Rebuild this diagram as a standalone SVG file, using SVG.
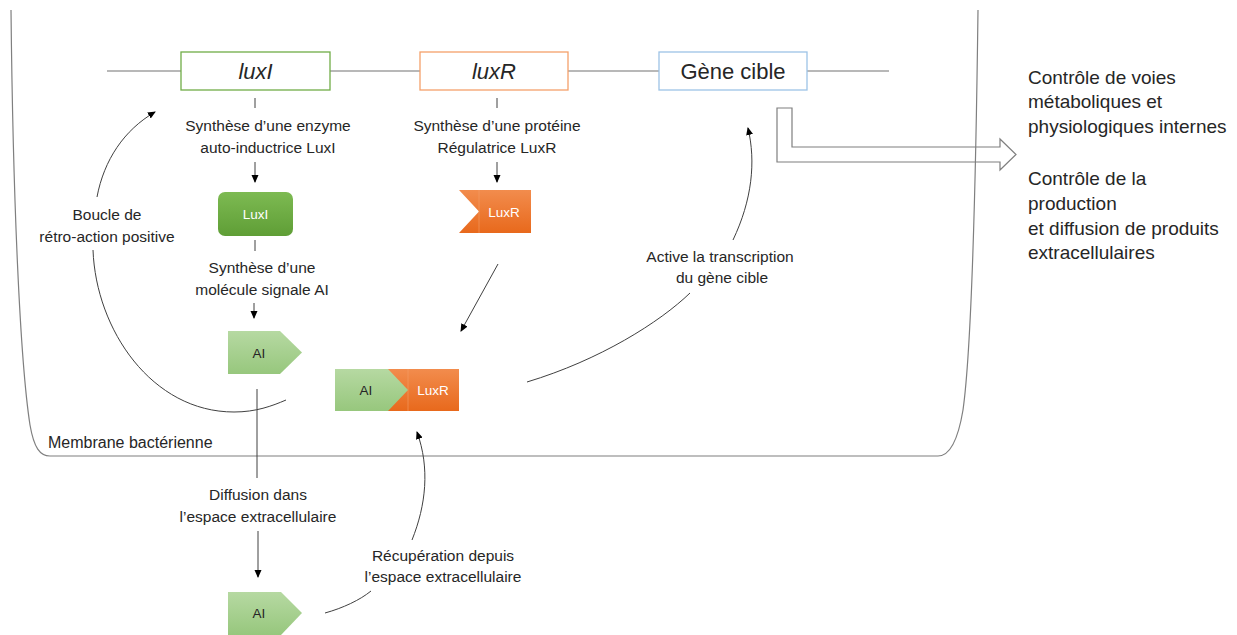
<svg xmlns="http://www.w3.org/2000/svg" width="1237" height="635" viewBox="0 0 1237 635">
<style>
text{font-family:"Liberation Sans",Arial,sans-serif;fill:#262626}
.lbl{font-size:15.5px;text-anchor:middle}
.gene{font-size:22px;text-anchor:middle}
.node{font-size:13.5px;text-anchor:middle}
.w{fill:#ffffff}
.right{font-size:19px}
.conn{fill:none;stroke:#404040;stroke-width:1}
.arr{fill:none;stroke:#404040;stroke-width:1;marker-end:url(#ah)}
</style>
<defs>
<marker id="ah" markerWidth="8" markerHeight="8" refX="7" refY="4" orient="auto" markerUnits="userSpaceOnUse">
<path d="M0,0.5 L8,4 L0,7.5 Z" fill="#000"/>
</marker>
<linearGradient id="gDark" x1="0" y1="0" x2="0" y2="1">
<stop offset="0" stop-color="#7dba52"/><stop offset="1" stop-color="#5f9e36"/>
</linearGradient>
<linearGradient id="gLight" x1="0" y1="0" x2="0" y2="1">
<stop offset="0" stop-color="#b6d9a2"/><stop offset="1" stop-color="#97c77d"/>
</linearGradient>
<linearGradient id="gOr" x1="0" y1="0" x2="0" y2="1">
<stop offset="0" stop-color="#f28c4d"/><stop offset="1" stop-color="#e8691c"/>
</linearGradient>
</defs>

<g id="membrane">
<path d="M11,10 C13,200 20,360 30,425 C34,448 40,456 50,456 L938,456 C950,456 958,440 963,410 C970,360 975,250 978,10" fill="none" stroke="#7f7f7f" stroke-width="1.2"/>
<text x="48" y="448" font-size="16">Membrane bactérienne</text>
</g>

<g id="dna">
<line x1="107" y1="71" x2="889" y2="71" stroke="#a0a0a0" stroke-width="1.3"/>
</g>

<g id="gene-luxI">
<rect x="181" y="52" width="149" height="38" fill="#fff" stroke="#70ad47" stroke-width="1.3"/>
<text class="gene" x="255.5" y="79" font-style="italic">luxI</text>
</g>
<g id="gene-luxR">
<rect x="420" y="52" width="148" height="38" fill="#fff" stroke="#f4a06a" stroke-width="1.3"/>
<text class="gene" x="494" y="79" font-style="italic">luxR</text>
</g>
<g id="gene-cible">
<rect x="659" y="52" width="148" height="38" fill="#fff" stroke="#9dc3e6" stroke-width="1.3"/>
<text class="gene" x="733" y="79">Gène cible</text>
</g>

<g id="output-arrow">
<polygon points="777,108 792,108 792,147 1000,147 1000,139 1016,154.5 1000,170 1000,162 777,162" fill="none" stroke="#7f7f7f" stroke-width="1.2"/>
</g>

<g id="connectors">
<line class="conn" x1="255" y1="98" x2="255" y2="108"/>
<line class="arr" x1="255" y1="162" x2="255" y2="182"/>
<line class="conn" x1="497" y1="98" x2="497" y2="108"/>
<line class="arr" x1="497" y1="162" x2="497" y2="182"/>
<line class="conn" x1="255" y1="240" x2="255" y2="251"/>
<line class="arr" x1="254" y1="303" x2="254" y2="318"/>
<line class="arr" x1="498" y1="264" x2="461" y2="331"/>
<path class="conn" d="M93,250 C96,330 152,412 234,412 C256,412 272,406 286,400"/>
<path class="arr" d="M97,197 C104,160 124,130 155,112"/>
<line class="conn" x1="257" y1="389" x2="257" y2="478"/>
<line class="arr" x1="258" y1="531" x2="258" y2="577"/>
<path class="conn" d="M325,613 C343,608 360,600 371,591"/>
<path class="arr" d="M412,540 C426,505 430,468 417,432"/>
<path class="conn" d="M527,382 C600,360 660,322 690,293"/>
<path class="arr" d="M733,240 C752,200 756,162 748,128"/>
</g>

<g id="labels">
<text class="lbl" x="268" y="131">Synthèse d’une enzyme</text>
<text class="lbl" x="268" y="153">auto-inductrice  LuxI</text>
<text class="lbl" x="497" y="131">Synthèse d’une protéine</text>
<text class="lbl" x="497" y="153">Régulatrice LuxR</text>
<text class="lbl" x="262" y="273">Synthèse d’une</text>
<text class="lbl" x="262" y="295">molécule signale AI</text>
<text class="lbl" x="107" y="220">Boucle de</text>
<text class="lbl" x="107" y="242">rétro-action positive</text>
<text class="lbl" x="720" y="262">Active la transcription</text>
<text class="lbl" x="722" y="283">du gène cible</text>
<text class="lbl" x="258" y="500">Diffusion dans</text>
<text class="lbl" x="258" y="522">l’espace extracellulaire</text>
<text class="lbl" x="443" y="561">Récupération depuis</text>
<text class="lbl" x="443" y="582">l’espace extracellulaire</text>
</g>

<g id="node-LuxI">
<rect x="218" y="192" width="75" height="44" rx="7" fill="url(#gDark)"/>
<text class="node w" x="255.5" y="219">LuxI</text>
</g>

<g id="node-LuxR">
<polygon points="459,190 531,190 531,233 459,233 479,211.5" fill="url(#gOr)"/>
<line x1="479" y1="190" x2="479" y2="233" stroke="#f4a06a" stroke-width="0.6"/>
<text class="node w" x="504" y="216.5">LuxR</text>
</g>

<g id="node-AI">
<polygon points="228,331 280,331 302,352.5 280,374 228,374" fill="url(#gLight)"/>
<text class="node" x="259" y="357.5">AI</text>
</g>

<g id="node-AI-LuxR">
<rect x="388" y="369" width="71" height="42" fill="url(#gOr)"/>
<line x1="408" y1="369" x2="408" y2="411" stroke="#f4a06a" stroke-width="0.6"/>
<polygon points="335,369 388,369 408,390 388,411 335,411" fill="url(#gLight)"/>
<text class="node" x="366" y="395">AI</text>
<text class="node w" x="433" y="395">LuxR</text>
</g>

<g id="node-AI-ext">
<polygon points="228,592 281,592 302,613 281,635 228,635" fill="url(#gLight)"/>
<text class="node" x="259" y="618">AI</text>
</g>

<g id="outcomes">
<text class="right" x="1028" y="84">Contrôle de voies</text>
<text class="right" x="1028" y="108">métaboliques et</text>
<text class="right" x="1028" y="133">physiologiques internes</text>
<text class="right" x="1028" y="185">Contrôle de la</text>
<text class="right" x="1028" y="210">production</text>
<text class="right" x="1028" y="235">et diffusion de produits</text>
<text class="right" x="1028" y="259">extracellulaires</text>
</g>
</svg>
